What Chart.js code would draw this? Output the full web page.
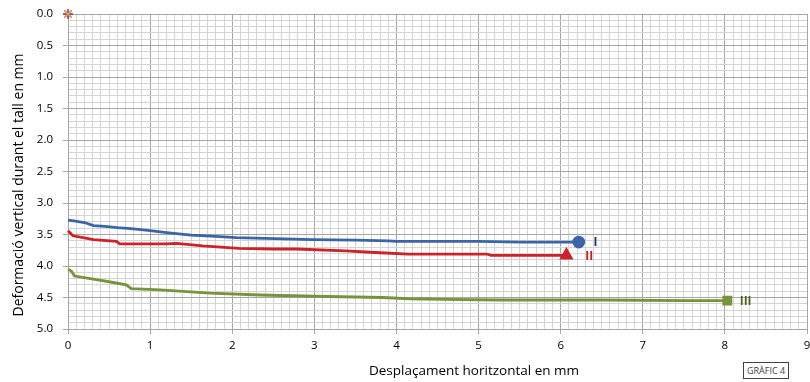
<!DOCTYPE html>
<html>
<head>
<meta charset="utf-8">
<script src="https://cdn.jsdelivr.net/npm/chart.js@4/dist/chart.umd.min.js"></script>
<style>
  html, body { margin: 0; padding: 0; background: #fff; }
  #wrap { position: relative; width: 810px; height: 382px; }
  #tag {
    position: absolute; left: 743px; top: 362px;
    border: 1px solid #404040; padding: 1px 3px;
    font: 9px "Open Sans", sans-serif; color: #404040; background: #fff;
  }
</style>
</head>
<body>
<div id="wrap">
  <canvas id="chart" width="810" height="382"></canvas>
  <div id="tag">GRÀFIC 4</div>
</div>
<script>
// curve I (blue)
const xI = [0, 0.05, 0.2, 0.31, 0.45, 0.6, 0.8, 1.0, 1.2, 1.5, 1.8, 2.05, 2.4, 2.98, 3.5, 3.91, 4.0, 5.0, 5.5, 6.22];
const yI = [3.27, 3.28, 3.31, 3.36, 3.37, 3.39, 3.41, 3.44, 3.47, 3.51, 3.53, 3.55, 3.56, 3.58, 3.59, 3.60, 3.61, 3.61, 3.62, 3.62];
// curve II (red)
const xII = [0, 0.06, 0.15, 0.31, 0.59, 0.63, 0.9, 1.2, 1.32, 1.64, 2.08, 2.5, 2.78, 3.38, 3.8, 4.15, 5.1, 5.15, 6.07];
const yII = [3.44, 3.52, 3.54, 3.58, 3.61, 3.65, 3.65, 3.65, 3.64, 3.68, 3.72, 3.73, 3.73, 3.76, 3.79, 3.81, 3.81, 3.83, 3.83];
// curve III (green)
const xIII = [0, 0.04, 0.08, 0.31, 0.5, 0.71, 0.77, 1.12, 1.73, 2.34, 3.0, 3.83, 4.15, 4.6, 5.25, 6.5, 7.5, 8.03];
const yIII = [4.05, 4.08, 4.16, 4.21, 4.25, 4.30, 4.36, 4.38, 4.43, 4.46, 4.48, 4.50, 4.52, 4.53, 4.54, 4.54, 4.55, 4.55];
// origin marker and curve labels
const origin = [0, 0];
const curveNames = ['I', 'II', 'III'];
const nameX = [6.4, 6.3, 8.18];
const xTitle = 'Desplaçament horitzontal en mm';
const yTitle = 'Deformació vertical durant el tall en mm';

const toPts = (xs, ys) => xs.map((x, i) => ({x: x, y: ys[i]}));
const lastOnly = (r) => (c) => c.dataIndex === c.dataset.data.length - 1 ? r : 0;

const colors = ['#3A66A7', '#CC2229', '#77933C'];
const labelColors = ['#1F3864', '#C0202A', '#4F6228'];
const series = [toPts(xI, yI), toPts(xII, yII), toPts(xIII, yIII)];
const styles = ['circle', 'triangle', 'rect'];

const datasets = series.map((d, i) => ({
  label: curveNames[i],
  data: d,
  showLine: true,
  borderColor: colors[i],
  backgroundColor: colors[i],
  borderWidth: 2.8,
  pointStyle: styles[i],
  pointRadius: lastOnly(i === 1 ? 5.5 : 5),
  pointHoverRadius: 0,
  clip: false,
  tension: 0
}));
datasets.push({
  label: 'origin-a', data: [{x: origin[0], y: origin[1]}], clip: false,
  pointStyle: 'crossRot', pointRadius: 5, borderColor: '#F2B233', borderWidth: 1.5
});
datasets.push({
  label: 'origin-b', data: [{x: origin[0], y: origin[1]}], clip: false,
  pointStyle: 'star', pointRadius: 5, borderColor: '#7030A0', borderWidth: 1.5
});

const isMult = (v, m) => Math.abs(v / m - Math.round(v / m)) < 1e-6;
const font = '"Open Sans", sans-serif';

// curve names next to the end markers, plus the two axis titles
const extraText = {
  id: 'extraText',
  afterDraw(chart) {
    const {ctx, scales: {x, y}} = chart;
    ctx.save();
    ctx.font = 'bold 12px ' + font;
    ctx.textBaseline = 'middle';
    series.forEach((d, i) => {
      const last = d[d.length - 1];
      ctx.fillStyle = labelColors[i];
      ctx.fillText(curveNames[i], x.getPixelForValue(nameX[i]), y.getPixelForValue(last.y) + 1);
    });
    ctx.fillStyle = '#000';
    ctx.textAlign = 'center';
    ctx.font = '13.5px ' + font;
    ctx.fillText(xTitle, 474, 371);
    ctx.translate(19, 185);
    ctx.rotate(-Math.PI / 2);
    ctx.font = '14px ' + font;
    ctx.fillText(yTitle, 0, 0);
    ctx.restore();
  }
};

new Chart(document.getElementById('chart'), {
  type: 'scatter',
  data: {datasets: datasets},
  plugins: [extraText],
  options: {
    responsive: false,
    animation: false,
    layout: {autoPadding: false, padding: {top: 14, right: 3, left: 0, bottom: 0}},
    plugins: {legend: {display: false}, tooltip: {enabled: false}},
    scales: {
      x: {
        type: 'linear', min: 0, max: 9,
        afterFit(s) { s.height = 53; s.paddingLeft = 0; s.paddingRight = 0; },
        ticks: {
          stepSize: 0.1, maxTicksLimit: 200, autoSkip: false, maxRotation: 0,
          color: '#000', padding: 5,
          font: {family: font, size: 11.5},
          callback: (v) => isMult(v, 1) ? String(Math.round(v)) : ''
        },
        grid: {
          color: (c) => isMult(c.tick.value, 1) ? '#A6A6A6' : '#D4D4D4',
          tickColor: (c) => isMult(c.tick.value, 1) ? '#A6A6A6' : 'rgba(0,0,0,0)',
          tickLength: 5
        },
        border: {color: '#A6A6A6'}
      },
      y: {
        type: 'linear', min: 0, max: 5, reverse: true,
        afterFit(s) { s.width = 68; s.paddingTop = 0; s.paddingBottom = 0; },
        ticks: {
          stepSize: 0.1, maxTicksLimit: 200, autoSkip: false,
          color: '#000', padding: 10,
          font: {family: font, size: 11.5},
          callback: (v) => isMult(v, 0.5) ? v.toFixed(1) : ''
        },
        grid: {
          color: (c) => isMult(c.tick.value, 0.5) ? '#A6A6A6' : '#D4D4D4',
          tickColor: (c) => isMult(c.tick.value, 0.5) ? '#A6A6A6' : 'rgba(0,0,0,0)',
          tickLength: 5
        },
        border: {color: '#A6A6A6'}
      }
    }
  }
});
</script>
</body>
</html>
